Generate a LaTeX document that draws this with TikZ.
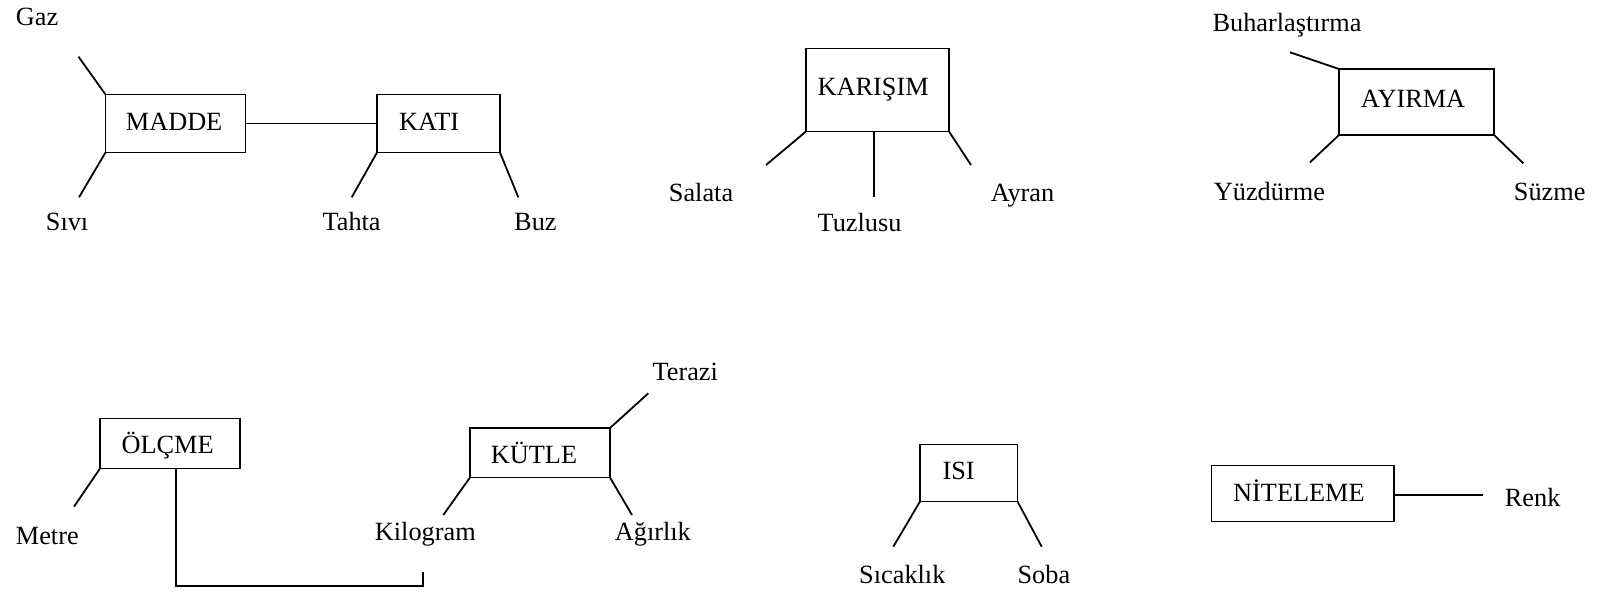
\documentclass[tikz,border=0pt]{standalone}
\usepackage{fontspec}
\setmainfont{Liberation Serif}
\begin{document}
\begin{tikzpicture}[x=1pt,y=-1pt,
  line width=1.8pt,
  box/.style={draw, rectangle, inner sep=0pt, outer sep=0pt},
  word/.style={inner sep=0pt, anchor=base west, font=\fontsize{26.3}{30}\selectfont}]
\useasboundingbox (0,0) rectangle (1597,592);

% ---- MADDE / KATI ----
\node[box, minimum width=140, minimum height=58] (madde) at (175.5,123.5) {};
\node[box, minimum width=123, minimum height=58] (kati) at (438.5,123.5) {};
\node[word] (madde-t) at (125,130.7) {MADDE};
\node[word] (kati-t) at (398.3,130.7) {KATI};
\node[word] (gaz) at (15,25.7) {Gaz};
\node[word] (sivi) at (45,230) {Sıvı};
\node[word] (tahta) at (321.7,230) {Tahta};
\node[word] (buz) at (513.3,230) {Buz};
\coordinate (gaz-e) at (78.5,56.7);
\coordinate (sivi-e) at (79,197.3);
\coordinate (tahta-e) at (351.7,197.3);
\coordinate (buz-e) at (518.3,197.3);
\draw (madde) -- (kati);
\draw (madde.north west) -- (gaz-e);
\draw (madde.south west) -- (sivi-e);
\draw (kati.south west) -- (tahta-e);
\draw (kati.south east) -- (buz-e);

% ---- KARIŞIM ----
\node[box, minimum width=143, minimum height=83] (karisim) at (877.5,90) {};
\node[word] (karisim-t) at (816.7,95.7) {KARIŞIM};
\node[word] (salata) at (668,201.7) {Salata};
\node[word] (tuzlusu) at (816.7,231.7) {Tuzlusu};
\node[word] (ayran) at (990,201.7) {Ayran};
\coordinate (salata-e) at (766,165);
\coordinate (tuzlusu-e) at (874.3,196.7);
\coordinate (ayran-e) at (971,165);
\draw (karisim.south west) -- (salata-e);
\draw (karisim.south -| tuzlusu-e) -- (tuzlusu-e);
\draw (karisim.south east) -- (ayran-e);

% ---- AYIRMA ----
\node[box, minimum width=155, minimum height=66] (ayirma) at (1416.5,102) {};
\node[word] (ayirma-t) at (1360,107.3) {AYIRMA};
\node[word] (buhar) at (1211.7,31.7) {Buharlaştırma};
\node[word] (yuzdurme) at (1213,200) {Yüzdürme};
\node[word] (suzme) at (1513,200) {Süzme};
\coordinate (buhar-e) at (1290,52.3);
\coordinate (yuzdurme-e) at (1310,162.3);
\coordinate (suzme-e) at (1523.3,163.3);
\draw (ayirma.north west) -- (buhar-e);
\draw (ayirma.south west) -- (yuzdurme-e);
\draw (ayirma.south east) -- (suzme-e);

% ---- ÖLÇME / KÜTLE ----
\node[box, minimum width=140, minimum height=50] (olcme) at (170,443.5) {};
\node[box, minimum width=140, minimum height=49.5] (kutle) at (540,452.75) {};
\node[word] (olcme-t) at (120.7,453.3) {ÖLÇME};
\node[word] (kutle-t) at (490,463.3) {KÜTLE};
\node[word] (metre) at (15,544) {Metre};
\node[word] (terazi) at (651.7,380) {Terazi};
\node[word] (kilogram) at (374,540) {Kilogram};
\node[word] (agirlik) at (614,540) {Ağırlık};
\coordinate (metre-e) at (74,506.7);
\coordinate (terazi-e) at (648.3,393.3);
\coordinate (kilogram-e) at (443.3,515);
\coordinate (agirlik-e) at (632,515);
\coordinate (kg-e) at (423.3,571.7);
\draw (olcme.south west) -- (metre-e);
\draw ([xshift=5.7]olcme.south) -- ++(0,117.5) -| (kg-e);
\draw (kutle.north east) -- (terazi-e);
\draw (kutle.south west) -- (kilogram-e);
\draw (kutle.south east) -- (agirlik-e);

% ---- ISI ----
\node[box, minimum width=97.5, minimum height=57] (isi) at (968.75,473) {};
\node[word] (isi-t) at (941.7,479.3) {ISI};
\node[word] (sicaklik) at (858.3,583.3) {Sıcaklık};
\node[word] (soba) at (1016.7,583.3) {Soba};
\coordinate (sicaklik-e) at (893.3,546.7);
\coordinate (soba-e) at (1041.7,546.7);
\draw (isi.south west) -- (sicaklik-e);
\draw (isi.south east) -- (soba-e);

% ---- NİTELEME ----
\node[box, minimum width=182.5, minimum height=56] (niteleme) at (1302.75,493.5) {};
\node[word] (niteleme-t) at (1232.3,501.7) {NİTELEME};
\node[word] (renk) at (1504,506) {Renk};
\coordinate (renk-e) at (1483.3,495);
\draw (niteleme.east |- renk-e) -- (renk-e);
\end{tikzpicture}
\end{document}
